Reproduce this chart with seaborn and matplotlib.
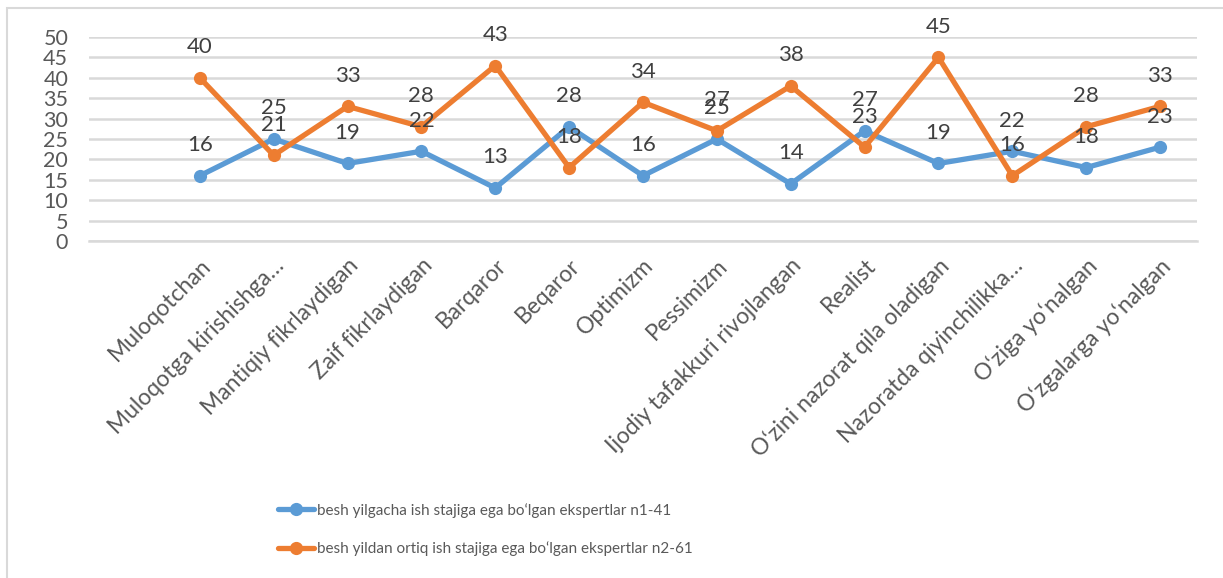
import matplotlib
matplotlib.use("Agg")
import matplotlib.pyplot as plt
import seaborn as sns
import pandas as pd
import numpy as np
from matplotlib.patches import Rectangle
from matplotlib.lines import Line2D

categories = ["Muloqotchan", "Muloqotga kirishishga…", "Mantiqiy fikrlaydigan",
              "Zaif fikrlaydigan", "Barqaror", "Beqaror", "Optimizm", "Pessimizm",
              "Ijodiy tafakkuri rivojlangan", "Realist", "O‘zini nazorat qila oladigan",
              "Nazoratda qiyinchilikka…", "O‘ziga yo‘nalgan", "O‘zgalarga yo‘nalgan"]
series1_name = "besh yilgacha ish stajiga ega bo‘lgan ekspertlar n1-41"
series2_name = "besh yildan ortiq ish stajiga ega bo‘lgan ekspertlar n2-61"
series1 = [16, 25, 19, 22, 13, 28, 16, 25, 14, 27, 19, 22, 18, 23]
series2 = [40, 21, 33, 28, 43, 18, 34, 27, 38, 23, 45, 16, 28, 33]
yticks = [0, 5, 10, 15, 20, 25, 30, 35, 40, 45, 50]

sns.set_theme(style="white")
plt.rcParams['font.family'] = ['Lato', 'DejaVu Sans']

W, H = 1223, 578
fig = plt.figure(figsize=(W / 100, H / 100), dpi=100)
ax = fig.add_axes([89 / W, 1 - 241 / H, (1197 - 89) / W, (241 - 37) / H])

df = pd.DataFrame({
    "idx": list(range(len(categories))) * 2,
    "value": series1 + series2,
    "series": [series1_name] * len(series1) + [series2_name] * len(series2),
})
colors = {series1_name: "#5B9BD5", series2_name: "#ED7D31"}
LW, MS = 3.8, 9.5
sns.lineplot(data=df, x="idx", y="value", hue="series", palette=colors,
             marker="o", markersize=MS, markeredgewidth=0, linewidth=LW,
             sort=False, ax=ax, legend=False)

for vals, name in [(series1, series1_name), (series2, series2_name)]:
    for i, v in enumerate(vals):
        ax.annotate(str(v), (i, v), xytext=(0, 22), textcoords="offset points",
                    ha="center", va="center", fontsize=16, color="#404040")

ax.set_xlim(-1.5, 13.5)
ax.set_ylim(0, 50)
ax.set_yticks(yticks)
ax.set_yticklabels([str(t) for t in yticks], fontsize=15.5, color="#595959")
ax.set_xticks(range(len(categories)))
ax.set_xticklabels(categories, rotation=45, ha="right", rotation_mode="anchor",
                   fontsize=16.5, color="#595959")
ax.tick_params(axis="x", length=0, pad=10)
ax.tick_params(axis="y", length=0, pad=15)
ax.grid(axis="y", color="#D9D9D9", linewidth=1.8)
ax.grid(axis="x", visible=False)
for s in ["top", "right", "left"]:
    ax.spines[s].set_visible(False)
ax.spines["bottom"].set_color("#D9D9D9")
ax.spines["bottom"].set_linewidth(1.8)
ax.set_xlabel("")
ax.set_ylabel("")
ax.set_axisbelow(True)

# chart border
fig.patches.append(Rectangle((7 / W, -0.05), 1.1, 1 - 8 / H + 0.05, transform=fig.transFigure,
                             fill=False, edgecolor="#D9D9D9", linewidth=1.5))

handles = [Line2D([0], [0], color=colors[n], linewidth=LW, marker="o", markersize=MS,
                  markeredgewidth=0) for n in [series1_name, series2_name]]
leg = fig.legend(handles, [series1_name, series2_name], loc="upper left",
                 bbox_to_anchor=(264 / W, 1 - 489 / H), frameon=False,
                 fontsize=11, handlelength=2.4, handletextpad=0.15,
                 labelspacing=1.55)
for t in leg.get_texts():
    t.set_color("#595959")

fig.savefig("out.png", dpi=100)
